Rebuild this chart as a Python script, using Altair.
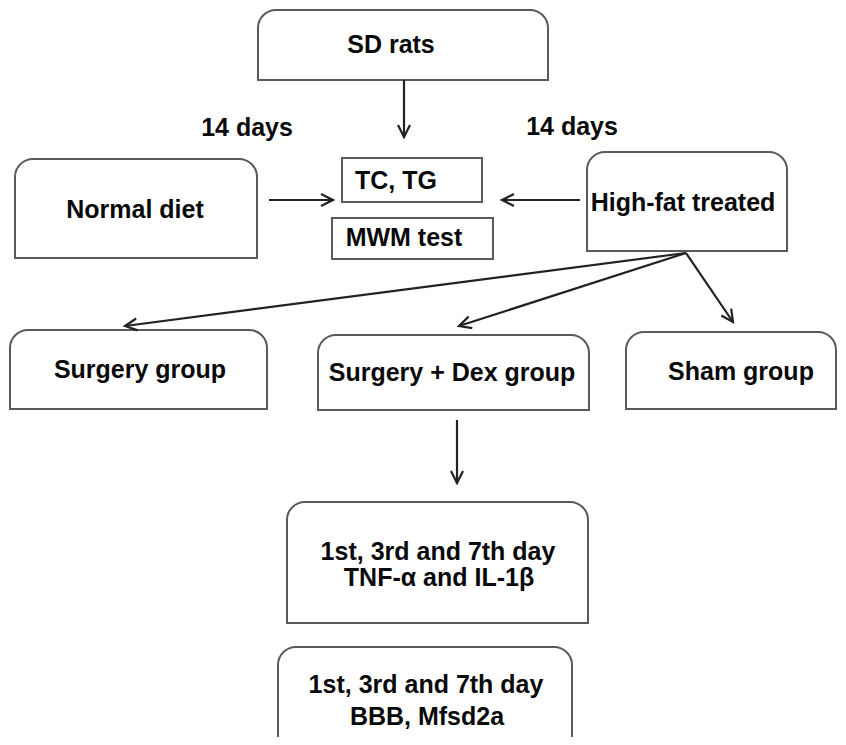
import altair as alt
import pandas as pd
import numpy as np

# ---- rounded-top boxes (pixel layout of the flowchart) ----
rb_name = ["SD rats", "Normal diet", "High-fat treated", "Surgery group",
           "Surgery + Dex group", "Sham group", "Cytokines", "BBB"]
rb_x0 = [258, 15, 587, 10, 318, 626, 287, 278]
rb_x1 = [548, 257, 787, 267, 589, 836, 588, 572]
rb_y0 = [10, 159, 152, 330, 335, 332, 502, 647]
rb_y1 = [80, 258, 251, 409, 410, 409, 623, 760]

# ---- square boxes ----
sb_name = ["TC, TG", "MWM test"]
sb_x0 = [342, 332]
sb_x1 = [482, 493]
sb_y0 = [158, 218]
sb_y1 = [202, 259]

# ---- labels ----
lb_text = ["SD rats", "14 days", "14 days", "Normal diet", "TC, TG", "MWM test",
           "High-fat treated", "Surgery group", "Surgery + Dex group", "Sham group",
           "1st, 3rd and 7th day", "TNF-α and IL-1β",
           "1st, 3rd and 7th day", "BBB, Mfsd2a"]
lb_x = [391, 247, 572, 135, 396, 404, 683, 140, 452, 741, 438, 439, 426, 427]
lb_y = [45, 128, 127, 210, 181, 238, 203, 370, 373, 372, 552, 578, 685, 717]

# ---- arrows (start -> tip) ----
ar_x0 = [404, 269, 580, 686, 686, 686, 457]
ar_y0 = [80, 200, 200, 253, 253, 253, 420]
ar_x1 = [404, 333, 502, 125, 459, 733, 457]
ar_y1 = [137, 200, 200, 326, 326, 322, 483]

W, H = 830, 729
xs = alt.Scale(domain=[8, 8 + W], nice=False, zero=False)
ys = alt.Scale(domain=[8 + H, 8], nice=False, zero=False)

rb = pd.DataFrame({"name": rb_name, "x0": rb_x0, "x1": rb_x1, "y0": rb_y0, "y1": rb_y1})
sb = pd.DataFrame({"name": sb_name, "x0": sb_x0, "x1": sb_x1, "y0": sb_y0, "y1": sb_y1})
lb = pd.DataFrame({"text": lb_text, "x": lb_x, "y": lb_y})
ar = pd.DataFrame({"x0": ar_x0, "y0": ar_y0, "x1": ar_x1, "y1": ar_y1})
dx = ar["x1"] - ar["x0"]
dy = ar["y1"] - ar["y0"]
ar["ang"] = (np.degrees(np.arctan2(dx, -dy)) + 360) % 360

box_enc = dict(
    x=alt.X("x0:Q", scale=xs, axis=None),
    x2="x1:Q",
    y=alt.Y("y0:Q", scale=ys, axis=None),
    y2="y1:Q",
)

round_boxes = alt.Chart(rb).mark_rect(
    fill="white", stroke="#5a5a5a", strokeWidth=2,
    cornerRadiusTopLeft=18, cornerRadiusTopRight=18, clip=True
).encode(**box_enc)

square_boxes = alt.Chart(sb).mark_rect(
    fill="white", stroke="#5a5a5a", strokeWidth=2
).encode(**box_enc)

shafts = alt.Chart(ar).mark_rule(color="#222222", strokeWidth=2.2).encode(
    x=alt.X("x0:Q", scale=xs, axis=None),
    x2="x1:Q",
    y=alt.Y("y0:Q", scale=ys, axis=None),
    y2="y1:Q",
)

heads = alt.Chart(ar).mark_point(
    shape="M -0.5 1 L 0 0 L 0.5 1", filled=False, color="#222222",
    strokeWidth=2.2, size=576, opacity=1
).encode(
    x=alt.X("x1:Q", scale=xs, axis=None),
    y=alt.Y("y1:Q", scale=ys, axis=None),
    angle=alt.Angle("ang:Q", scale=None),
)

labels = alt.Chart(lb).mark_text(
    font="Liberation Sans", fontWeight="bold", fontSize=25, color="#0a0a0a",
    align="center", baseline="middle"
).encode(
    x=alt.X("x:Q", scale=xs, axis=None),
    y=alt.Y("y:Q", scale=ys, axis=None),
    text="text:N",
)

chart = alt.layer(round_boxes, square_boxes, shafts, heads, labels).properties(
    width=W, height=H, autosize="none", padding=0, background="white"
).configure_view(stroke=None)

chart.save("out.html", embed_options={"renderer": "svg", "actions": False})
